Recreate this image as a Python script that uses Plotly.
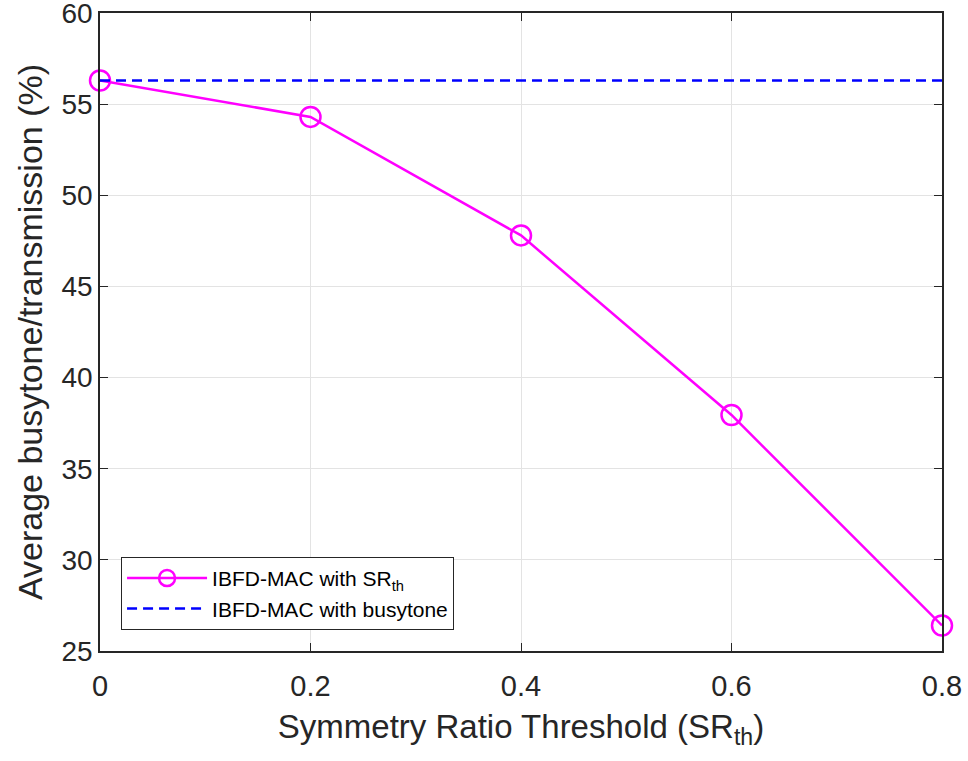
import plotly.graph_objects as go

# Symmetry ratio threshold values and measured busytone/transmission ratio (%)
sr_th = [0.0, 0.2, 0.4, 0.6, 0.8]
ratio_sr = [56.3, 54.3, 47.8, 37.95, 26.4]
busytone_level = 56.3

x_ticks = [0, 0.2, 0.4, 0.6, 0.8]
x_tick_text = ["0", "0.2", "0.4", "0.6", "0.8"]
y_ticks = [25, 30, 35, 40, 45, 50, 55, 60]

FONT = "Liberation Sans, Arial, Helvetica, sans-serif"
AXIS_COLOR = "#262626"

fig = go.Figure()

fig.add_trace(go.Scatter(
    x=sr_th, y=ratio_sr,
    mode="lines+markers",
    name="IBFD-MAC with SR<sub>th</sub>",
    line=dict(color="#ff00ff", width=2.5),
    marker=dict(symbol="circle-open", size=20, color="#ff00ff",
                line=dict(width=2.5, color="#ff00ff")),
    cliponaxis=False,
))

fig.add_trace(go.Scatter(
    x=[sr_th[0], sr_th[-1]], y=[busytone_level, busytone_level],
    mode="lines",
    name="IBFD-MAC with busytone",
    line=dict(color="#0000ff", width=2.5, dash="10px,6px"),
))

fig.update_layout(
    width=968, height=761,
    margin=dict(l=100, r=26, t=13, b=110),
    paper_bgcolor="white",
    plot_bgcolor="white",
    font=dict(family=FONT, color=AXIS_COLOR),
    showlegend=True,
    legend=dict(
        x=0.025, y=0.033, xanchor="left", yanchor="bottom",
        bgcolor="white", bordercolor=AXIS_COLOR, borderwidth=1,
        font=dict(size=21, family=FONT, color="#000000"),
        itemwidth=80,
        tracegroupgap=0,
    ),
)

fig.update_xaxes(
    range=[0, 0.8],
    automargin=False,
    tickvals=x_ticks, ticktext=x_tick_text,
    ticks="inside", ticklen=8, tickwidth=1, tickcolor=AXIS_COLOR,
    showline=True, linecolor=AXIS_COLOR, linewidth=1.5, mirror="ticks",
    showgrid=True, gridcolor="#e3e3e3", gridwidth=1,
    zeroline=False,
    ticklabelstandoff=8,
    ticklabeloverflow="allow",
    tickfont=dict(size=29, family=FONT, color=AXIS_COLOR),
    title=dict(text="Symmetry Ratio Threshold (SR<sub>th</sub>)",
               font=dict(size=33, family=FONT, color=AXIS_COLOR), standoff=14),
)

fig.update_yaxes(
    range=[25, 60],
    automargin=False,
    tickvals=y_ticks,
    ticks="inside", ticklen=8, tickwidth=1, tickcolor=AXIS_COLOR,
    showline=True, linecolor=AXIS_COLOR, linewidth=1.5, mirror="ticks",
    showgrid=True, gridcolor="#e3e3e3", gridwidth=1,
    zeroline=False,
    ticklabeloverflow="allow",
    tickfont=dict(size=28, family=FONT, color=AXIS_COLOR),
    title=dict(text="Average busytone/transmission (%)",
               font=dict(size=34, family=FONT, color=AXIS_COLOR), standoff=9),
)

fig.write_html("out.html")
